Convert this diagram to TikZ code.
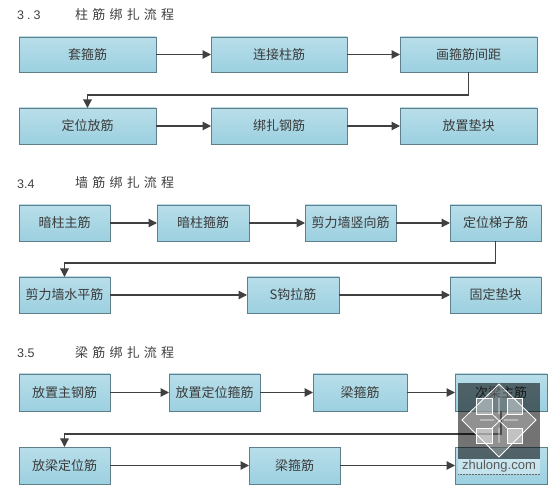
\documentclass[tikz,border=0pt]{standalone}
\usepackage{fontspec}
\usetikzlibrary{arrows.meta,shadows,calc}
\setmainfont{Liberation Sans}
\newfontfamily\cjk{Noto Sans CJK SC}
\definecolor{boxtop}{HTML}{B8DEE9}
\definecolor{boxbot}{HTML}{9CD0E0}
\definecolor{boxedge}{HTML}{5F7F8A}
\definecolor{linec}{HTML}{404040}
\definecolor{textc}{HTML}{3A3A3A}
\tikzset{
  x=1pt,y=-1pt,
  flowbox/.style={draw=boxedge,line width=0.9pt,inner sep=0pt,outer sep=0pt,anchor=north west,
    top color=boxtop,bottom color=boxbot,
    text=textc,font=\cjk\fontsize{13}{14}\selectfont,
    drop shadow={shadow xshift=1pt,shadow yshift=-1pt,fill=black!25,opacity=.5}},
  flowline/.style={draw=linec,line width=1.2pt,-{Triangle[length=8.5pt,width=8.5pt]}},
  heading/.style={anchor=west,inner sep=0pt,text=black!75,font=\cjk\fontsize{13}{14}\selectfont},
  headnum/.style={anchor=west,inner sep=0pt,text=black!75,font=\fontsize{12.5}{14}\selectfont},
  wmline/.style={draw=white,line width=0.8pt},
}
\newcommand{\flownode}[6]{\node[flowbox,minimum width=#4pt-#2pt,minimum height=#5pt-#3pt] (#1) at (#2,#3) {#6};}
\newcommand{\hs}{\hspace{4.2pt}}
\begin{document}
\begin{tikzpicture}
\useasboundingbox (0,0) rectangle (560,494);
\fill[white] (0,0) rectangle (560,494);
\node[headnum] (h1n) at (17,15) {3\hspace{3pt}.\hspace{3pt}3};
\node[heading] (h1) at (75,15) {柱\hs 筋\hs 绑\hs 扎\hs 流\hs 程};
\node[headnum] (h2n) at (17,184) {3.4};
\node[heading] (h2) at (75,183) {墙\hs 筋\hs 绑\hs 扎\hs 流\hs 程};
\node[headnum] (h3n) at (17,353) {3.5};
\node[heading] (h3) at (75,353) {梁\hs 筋\hs 绑\hs 扎\hs 流\hs 程};
% section 1
\flownode{a1}{19}{37}{156}{72}{套箍筋}
\flownode{a2}{211}{37}{347}{72}{连接柱筋}
\flownode{a3}{400}{37}{537}{72}{画箍筋间距}
\flownode{a4}{19}{108}{156}{144}{定位放筋}
\flownode{a5}{211}{108}{347}{144}{绑扎钢筋}
\flownode{a6}{400}{108}{537}{144}{放置垫块}
\draw[flowline] (a1) -- (a2);
\draw[flowline] (a2) -- (a3);
\draw[flowline] (a3.south) -- ++(0,23) -| (a4.north);
\draw[flowline] (a4) -- (a5);
\draw[flowline] (a5) -- (a6);
% section 2
\flownode{b1}{19}{205}{110}{241}{暗柱主筋}
\flownode{b2}{157}{205}{249}{241}{暗柱箍筋}
\flownode{b3}{305}{205}{396}{241}{剪力墙竖向筋}
\flownode{b4}{450}{205}{541}{241}{定位梯子筋}
\flownode{b5}{19}{277}{110}{313}{剪力墙水平筋}
\flownode{b6}{247}{277}{339}{313}{S钩拉筋}
\flownode{b7}{450}{277}{541}{313}{固定垫块}
\draw[flowline] (b1) -- (b2);
\draw[flowline] (b2) -- (b3);
\draw[flowline] (b3) -- (b4);
\draw[flowline] (b4.south) -- ++(0,22) -| (b5.north);
\draw[flowline] (b5) -- (b6);
\draw[flowline] (b6) -- (b7);
% section 3
\flownode{c1}{19}{374}{110}{411}{放置主钢筋}
\flownode{c2}{169}{374}{260}{411}{放置定位箍筋}
\flownode{c3}{313}{374}{407}{411}{梁箍筋}
\flownode{c4}{455}{374}{547}{411}{次梁主筋}
\flownode{c5}{19}{447}{110}{484}{放梁定位筋}
\flownode{c6}{249}{447}{340}{484}{梁箍筋}
\flownode{c7}{455}{447}{547}{484}{}
\draw[flowline] (c1) -- (c2);
\draw[flowline] (c2) -- (c3);
\draw[flowline] (c3) -- (c4);
\draw[flowline] (c4.south) -- ++(0,23) -| (c5.north);
\draw[flowline] (c5) -- (c6);
\draw[flowline] (c6) -- (c7);
% watermark
\fill[black,opacity=.55] (458,383) rectangle (540,459);
\fill[white,opacity=.22] (499,384) -- (536,420) -- (499,457) -- (462,420) -- cycle;
\draw[wmline] (499,384) -- (536,420) -- (499,457) -- (462,420) -- cycle;
\fill[white,opacity=.30] (476,398) rectangle (492,414);
\fill[white,opacity=.30] (507,398) rectangle (522,414);
\fill[white,opacity=.45] (476,428) rectangle (492,443);
\fill[white,opacity=.45] (507,428) rectangle (522,443);
\draw[wmline] (476,398) rectangle (492,414) (507,398) rectangle (522,414) (476,428) rectangle (492,443) (507,428) rectangle (522,443);
\draw[wmline] (492,414) -- (507,428) (507,414) -- (492,428) (499,398) -- (499,414) (499,428) -- (499,443) (480,420) -- (494,420) (504,420) -- (518,420);
\fill[white,opacity=.35] (458,459) rectangle (540,474);
\draw[black!60,densely dotted,line width=.5pt] (458,474) -- (540,474);
\node[inner sep=0pt,text=black!65,font=\fontsize{13}{14}\selectfont] (wm) at (499,466) {zhulong.com};
\end{tikzpicture}
\end{document}
